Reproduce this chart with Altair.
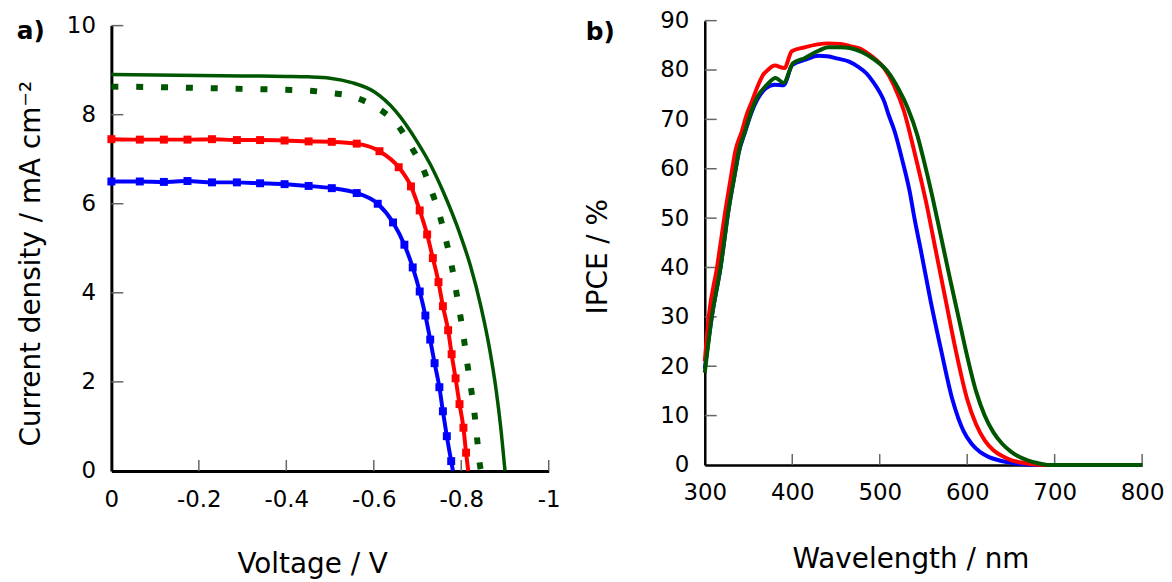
import altair as alt
import pandas as pd

FONT = "DejaVu Sans"

# ---------------- Panel a: J-V curves ----------------
green_solid_v = [0, -0.1, -0.2, -0.3, -0.4, -0.45, -0.5, -0.55, -0.6, -0.65, -0.7, -0.73,
                 -0.76, -0.8, -0.82, -0.845, -0.865, -0.88, -0.89, -0.9]
green_solid_j = [8.90, 8.89, 8.88, 8.87, 8.86, 8.85, 8.82, 8.72, 8.52, 8.08, 7.38, 6.87,
                 6.24, 5.24, 4.64, 3.69, 2.73, 1.80, 1.0, 0.0]

green_dot_v = [0, -0.1, -0.2, -0.3, -0.4, -0.45, -0.5, -0.55, -0.6, -0.63, -0.655, -0.686,
               -0.713, -0.732, -0.751, -0.765, -0.778, -0.788, -0.797, -0.806, -0.814,
               -0.822, -0.830, -0.836, -0.842, -0.845]
green_dot_j = [8.63, 8.62, 8.60, 8.58, 8.56, 8.54, 8.49, 8.41, 8.20, 8.00, 7.76, 7.27,
               6.78, 6.29, 5.73, 5.19, 4.62, 4.06, 3.54, 2.97, 2.40, 1.88, 1.31, 0.75,
               0.18, 0.0]

red_v = [0, -0.065, -0.120, -0.174, -0.230, -0.287, -0.340, -0.396, -0.451, -0.504,
         -0.561, -0.613, -0.657, -0.685, -0.705, -0.722, -0.735, -0.748, -0.758, -0.770,
         -0.778, -0.787, -0.796, -0.805, -0.811]
red_j = [7.45, 7.44, 7.44, 7.44, 7.45, 7.43, 7.43, 7.42, 7.40, 7.39, 7.35, 7.18, 6.82,
         6.39, 5.85, 5.31, 4.78, 4.24, 3.70, 3.16, 2.62, 2.08, 1.50, 0.97, 0.41]
red_end = (-0.816, 0.0)

blue_v = [0, -0.065, -0.120, -0.174, -0.230, -0.287, -0.340, -0.396, -0.451, -0.504,
          -0.561, -0.609, -0.644, -0.670, -0.689, -0.705, -0.718, -0.729, -0.739,
          -0.750, -0.758, -0.767, -0.777]
blue_j = [6.50, 6.50, 6.49, 6.51, 6.48, 6.48, 6.46, 6.44, 6.40, 6.35, 6.24, 6.00, 5.58,
          5.08, 4.57, 4.03, 3.49, 2.95, 2.42, 1.88, 1.34, 0.78, 0.22]
blue_end = (-0.781, 0.0)

a_x_ticks = [0, -0.2, -0.4, -0.6, -0.8, -1]
a_y_ticks = [0, 2, 4, 6, 8, 10]

# ---------------- Panel b: IPCE ----------------
blue_wl = [300, 308, 318, 327, 335, 339, 346, 353, 360, 370, 380, 390, 400,
           415, 430, 440, 452, 465, 475, 485, 492, 500, 505, 510, 517, 526, 534, 540,
           547, 558, 570, 583, 590, 596, 605, 615, 625, 635, 645, 655, 668, 690, 800]
blue_ipce = [19.5, 30, 40, 51.5, 59.6, 63.4, 67.4, 71.2, 74.0, 76.3, 77.0, 76.9,
             81.0, 82.1, 82.9, 82.8, 82.3, 81.7, 80.7, 79.3, 77.7, 75.5, 73.7, 71.0,
             67.6, 61.6, 55.6, 49.7, 43.5, 33.4, 23.4, 13.3, 9.4, 6.8, 4.3, 2.6, 1.6,
             1.0, 0.6, 0.3, 0.1, 0.0, 0.0]

red_wl = [300, 304.5, 314, 323.5, 331, 335, 342.4, 348, 354, 360, 367, 372, 380, 391,
          399.5, 414, 429, 441, 455, 467, 478, 486, 495, 505, 516, 527.7, 539.4, 548.4,
          552.6, 564, 575.4, 586.7, 600, 610, 620, 630, 640, 650, 660, 675, 688, 800]
red_ipce = [21, 30, 40, 51.5, 59.6, 63.6, 67.6, 71, 73.7, 76.5, 79.1, 80.0, 80.9, 80.4,
            83.8, 84.6, 85.2, 85.4, 85.3, 84.8, 84.3, 83.4, 82.2, 80.4, 77.0, 71.7, 63.6,
            56.9, 53.6, 43.5, 33.4, 23.4, 13.3, 8.3, 5.0, 3.0, 1.8, 1.0, 0.55, 0.15, 0.0,
            0.0]

green_wl = [300, 308, 318, 327, 335, 339, 346, 353, 360, 371, 381, 390, 401, 414, 430,
            441, 455, 467, 480, 494, 509, 522, 532, 543, 550, 560, 570, 580, 590, 600,
            610, 620, 630, 640, 650, 660, 670, 680, 692, 800]
green_ipce = [18.7, 30, 40, 51.5, 59.6, 63.6, 67.6, 71.5, 74.5, 77.0, 78.4, 77.4, 81.4,
              82.4, 83.9, 84.6, 84.6, 84.4, 83.6, 82.1, 79.7, 76.0, 72.3, 66.8, 62.0,
              54.5, 46.3, 38.0, 30.0, 22.0, 15.0, 10.0, 6.6, 4.3, 2.7, 1.6, 0.9, 0.4,
              0.0, 0.0]

b_x_ticks = [300, 400, 500, 600, 700, 800]
b_y_ticks = [0, 10, 20, 30, 40, 50, 60, 70, 80, 90]

GREEN = "#005500"
RED = "#ff0000"
BLUE = "#0000ff"
TICK_COLOR = "#666666"

# ---------------- dataframes ----------------
df_gs = pd.DataFrame({"V": green_solid_v, "J": green_solid_j})
df_gd = pd.DataFrame({"V": green_dot_v, "J": green_dot_j})
df_r = pd.DataFrame({"V": red_v + [red_end[0]], "J": red_j + [red_end[1]]})
df_rp = pd.DataFrame({"V": red_v, "J": red_j})
df_b = pd.DataFrame({"V": blue_v + [blue_end[0]], "J": blue_j + [blue_end[1]]})
df_bp = pd.DataFrame({"V": blue_v, "J": blue_j})
df_axt = pd.DataFrame({"V": a_x_ticks[1:]})
df_ayt = pd.DataFrame({"J": a_y_ticks[1:]})

A_W, A_H = 440, 453
B_W, B_H = 440, 447

common_axis = dict(
    grid=False, ticks=False, tickSize=0, domainColor="black",
    labelFont=FONT, labelFontSize=23, labelColor="black",
    titleFont=FONT, titleFontSize=28, titleColor="black", titleFontWeight="normal",
    labelFlush=False, labelOverlap=False, titleBaseline="middle", titleAlign="center",
)

axis_xa = alt.Axis(
    values=a_x_ticks,
    labelExpr="datum.value == 0 ? '0' : (datum.value == -1 ? '-1' : '-' + format(-datum.value, '.1f'))",
    labelPadding=18, domainWidth=3, title="Voltage / V", titleX=202, titleY=94,
    **common_axis,
)
axis_ya = alt.Axis(
    values=a_y_ticks, format="d", labelPadding=16, domainWidth=3,
    title="Current density / mA cm⁻²", titleX=-80, titleY=244, titleAngle=270,
    **common_axis,
)

xa = alt.X("V:Q", scale=alt.Scale(domain=[-1, 0], reverse=True), axis=axis_xa)
ya = alt.Y("J:Q", scale=alt.Scale(domain=[0, 10], range=[A_H, 5]), axis=axis_ya)

a_xt = alt.Chart(df_axt).mark_rule(color=TICK_COLOR, strokeWidth=1.5).encode(
    x=xa, y=alt.value(A_H), y2=alt.value(A_H - 11))
a_yt = alt.Chart(df_ayt).mark_rule(color=TICK_COLOR, strokeWidth=1.5).encode(
    y=ya, x=alt.value(0), x2=alt.value(12))

a_gs = alt.Chart(df_gs).mark_line(color=GREEN, strokeWidth=3.5, interpolate="monotone").encode(x=xa, y=ya)
a_gd = alt.Chart(df_gd).mark_line(color=GREEN, strokeWidth=6, strokeDash=[7, 18],
                                  strokeCap="butt", interpolate="monotone").encode(x=xa, y=ya)
a_r = alt.Chart(df_r).mark_line(color=RED, strokeWidth=4, interpolate="monotone").encode(x=xa, y=ya)
a_rp = alt.Chart(df_rp).mark_point(shape="square", filled=True, color=RED, size=64, opacity=1).encode(x=xa, y=ya)
a_b = alt.Chart(df_b).mark_line(color=BLUE, strokeWidth=4, interpolate="monotone").encode(x=xa, y=ya)
a_bp = alt.Chart(df_bp).mark_point(shape="square", filled=True, color=BLUE, size=64, opacity=1).encode(x=xa, y=ya)

a_lab = alt.Chart(pd.DataFrame({"t": ["a)"]})).mark_text(
    font=FONT, fontSize=25, fontWeight="bold", align="center", baseline="middle", color="black"
).encode(text="t:N", x=alt.value(-81), y=alt.value(10))

panel_a = alt.layer(a_xt, a_yt, a_gs, a_gd, a_r, a_rp, a_b, a_bp, a_lab).properties(
    width=A_W, height=A_H)

# ---------------- panel b ----------------
df_bl = pd.DataFrame({"W": blue_wl, "I": blue_ipce})
df_rd = pd.DataFrame({"W": red_wl, "I": red_ipce})
df_gr = pd.DataFrame({"W": green_wl, "I": green_ipce})
df_bxt = pd.DataFrame({"W": b_x_ticks[1:]})
df_byt = pd.DataFrame({"I": b_y_ticks[1:]})

axis_xb = alt.Axis(
    values=b_x_ticks, format="d", labelPadding=17, domainWidth=2.5,
    title="Wavelength / nm", titleX=207, titleY=95, **common_axis,
)
axis_yb = alt.Axis(
    values=b_y_ticks, format="d", labelPadding=16, domainWidth=2.5,
    title="IPCE / %", titleX=-107, titleY=237, titleAngle=270, **common_axis,
)
xb = alt.X("W:Q", scale=alt.Scale(domain=[300, 800]), axis=axis_xb)
yb = alt.Y("I:Q", scale=alt.Scale(domain=[0, 90]), axis=axis_yb)

b_xt = alt.Chart(df_bxt).mark_rule(color=TICK_COLOR, strokeWidth=1.5).encode(
    x=xb, y=alt.value(B_H), y2=alt.value(B_H - 11))
b_yt = alt.Chart(df_byt).mark_rule(color=TICK_COLOR, strokeWidth=1.5).encode(
    y=yb, x=alt.value(0), x2=alt.value(12))
b_b = alt.Chart(df_bl).mark_line(color=BLUE, strokeWidth=4, interpolate="monotone").encode(x=xb, y=yb)
b_r = alt.Chart(df_rd).mark_line(color=RED, strokeWidth=4, interpolate="monotone").encode(x=xb, y=yb)
b_g = alt.Chart(df_gr).mark_line(color=GREEN, strokeWidth=4, interpolate="monotone").encode(x=xb, y=yb)

b_lab = alt.Chart(pd.DataFrame({"t": ["b)"]})).mark_text(
    font=FONT, fontSize=25, fontWeight="bold", align="center", baseline="middle", color="black"
).encode(text="t:N", x=alt.value(-105), y=alt.value(11))

panel_b = alt.layer(b_xt, b_yt, b_b, b_r, b_g, b_lab).properties(width=B_W, height=B_H)

chart = alt.hconcat(panel_a, panel_b, spacing=24).properties(
    padding={"left": 8, "top": 0, "right": 0, "bottom": 0}
).configure(
    background="white", view=alt.ViewConfig(strokeWidth=0)
)

chart.save("out.html", embed_options={"renderer": "svg", "actions": False})
